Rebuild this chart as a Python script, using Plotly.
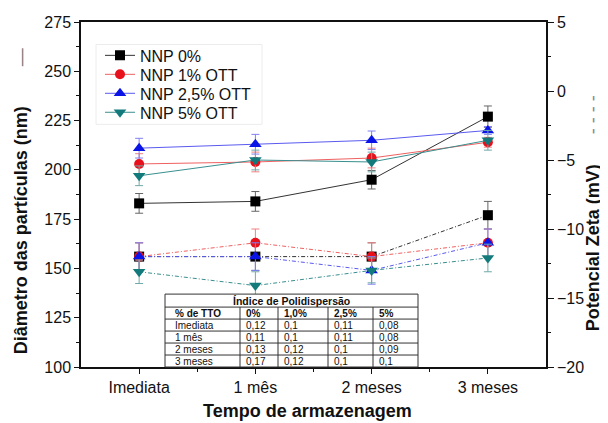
import plotly.graph_objects as go

# ---------------- data ----------------
categories = ["Imediata", "1 mês", "2 meses", "3 meses"]
series_names = ["NNP 0%", "NNP 1% OTT", "NNP 2,5% OTT", "NNP 5% OTT"]

diam_0 = [183, 184, 195, 227]
diam_1 = [203, 204, 206, 214]
diam_25 = [211, 213, 215, 220]
diam_5 = [197, 205, 204, 215]

diam_err_0 = [5, 5, 4.7, 5.4]
diam_err_1 = [5.2, 5, 5, 2.5]
diam_err_25 = [5, 5, 4.7, 2]
diam_err_5 = [5, 5, 5, 5]

zeta_0 = [-12, -12, -12, -9]
zeta_1 = [-12, -11, -12, -11]
zeta_25 = [-12, -12, -13, -11]
zeta_5 = [-13.1, -14.1, -13, -12.1]

zeta_err_0 = [1, 1, 1, 1]
zeta_err_1 = [1, 1, 1, 1]
zeta_err_25 = [1, 1, 1, 1]
zeta_err_5 = [0.85, 1, 0.9, 1]

table_title = "Índice de Polidispersão"
table_header = ["% de TTO", "0%", "1,0%", "2,5%", "5%"]
table_rows = [
    ["Imediata", "0,12", "0,1", "0,11", "0,08"],
    ["1 mês", "0,11", "0,1", "0,11", "0,08"],
    ["2 meses", "0,13", "0,12", "0,1", "0,09"],
    ["3 meses", "0,17", "0,12", "0,1", "0,1"],
]

x_title = "Tempo de armazenagem"
y_title = "Diâmetro das partículas (nm)"
y2_title = "Potencial Zeta (mV)"

# ---------------- styles ----------------
FONT = "Arial, Liberation Sans, sans-serif"
OFF = 8  # page body margin
W, H = 600, 415
ML, MR, MT, MB = 73, 62, 13.5, 56
PW, PH = W - ML - MR, H - MT - MB

marker_colors = ["#000000", "#e8101a", "#0a14e6", "#137a7c"]
line_colors = ["#333333", "#f06060", "#5a5af0", "#3a8f8f"]
err_colors = ["#666666", "#f08080", "#8080f0", "#70aaaa"]
symbols = ["square", "circle", "triangle-up", "triangle-down"]
sizes = [10, 10, 11, 11]
legend_ids = ["legend", "legend2", "legend3", "legend4"]
legend_y_px = [55, 74, 93, 112]

diam = [diam_0, diam_1, diam_25, diam_5]
diam_err = [diam_err_0, diam_err_1, diam_err_25, diam_err_5]
zeta = [zeta_0, zeta_1, zeta_25, zeta_5]
zeta_err = [zeta_err_0, zeta_err_1, zeta_err_25, zeta_err_5]

xs = list(range(len(categories)))


def px_x(px):
    # page pixel -> paper fraction
    return (px - OFF - ML) / PW


def px_y(py):
    return (H - MB - (py - OFF)) / PH


fig = go.Figure()

for i in range(4):
    fig.add_trace(go.Scatter(
        x=xs, y=zeta[i], yaxis="y2", mode="lines+markers", showlegend=False,
        line=dict(color=line_colors[i], width=1, dash="4px,2px,1px,2px"),
        marker=dict(symbol=symbols[i], size=sizes[i], color=marker_colors[i]),
        error_y=dict(type="data", array=zeta_err[i], color=err_colors[i], thickness=1, width=4),
    ))

for i in range(4):
    fig.add_trace(go.Scatter(
        x=xs, y=diam[i], mode="lines+markers", name=series_names[i],
        legend=legend_ids[i],
        line=dict(color=line_colors[i], width=1),
        marker=dict(symbol=symbols[i], size=sizes[i], color=marker_colors[i]),
        error_y=dict(type="data", array=diam_err[i], color=err_colors[i], thickness=1, width=4),
    ))

# ---------------- inset table ----------------
col_edges = [165, 240, 278, 328, 373, 418]
row_edges = [294, 307, 319, 331, 343, 355, 367]
shapes = []
annotations = []

# faint legend frame
shapes.append(dict(type="rect", xref="paper", yref="paper",
                   x0=px_x(96), x1=px_x(262), y0=px_y(124), y1=px_y(44),
                   line=dict(color="#ececec", width=1), fillcolor="rgba(0,0,0,0)", layer="below"))

shapes.append(dict(type="rect", xref="paper", yref="paper",
                   x0=px_x(col_edges[0]), x1=px_x(col_edges[-1]),
                   y0=px_y(row_edges[-1]), y1=px_y(row_edges[0]),
                   fillcolor="white", line=dict(color="#333", width=1), layer="above"))
for r in row_edges[1:-1]:
    shapes.append(dict(type="line", xref="paper", yref="paper",
                       x0=px_x(col_edges[0]), x1=px_x(col_edges[-1]),
                       y0=px_y(r), y1=px_y(r), line=dict(color="#333", width=1), layer="above"))
for c in col_edges[1:-1]:
    shapes.append(dict(type="line", xref="paper", yref="paper",
                       x0=px_x(c), x1=px_x(c),
                       y0=px_y(row_edges[-1]), y1=px_y(row_edges[1]),
                       line=dict(color="#333", width=1), layer="above"))

annotations.append(dict(xref="paper", yref="paper", x=px_x((col_edges[0] + col_edges[-1]) / 2),
                        y=px_y((row_edges[0] + row_edges[1]) / 2), text="<b>" + table_title + "</b>",
                        showarrow=False, font=dict(family=FONT, size=10.5, color="#111"),
                        xanchor="center", yanchor="middle"))
all_rows = [table_header] + table_rows
for ri, row in enumerate(all_rows):
    yc = (row_edges[ri + 1] + row_edges[ri + 2]) / 2
    for ci, txt in enumerate(row):
        pad = 8 if ci == 0 else 4
        t = "<b>" + txt + "</b>" if ri == 0 else txt
        annotations.append(dict(xref="paper", yref="paper", x=px_x(col_edges[ci] + pad),
                                y=px_y(yc), text=t, showarrow=False,
                                font=dict(family=FONT, size=10, color="#111"),
                                xanchor="left", yanchor="middle"))

# axis titles (rotated y titles placed as annotations)
annotations.append(dict(xref="paper", yref="paper", x=px_x(21), y=px_y(201),
                        text="<b>" + y_title + "</b>        <span style='color:#777'>—</span>",
                        textangle=-90, showarrow=False, xanchor="center", yanchor="middle",
                        font=dict(family=FONT, size=18, color="#111")))
annotations.append(dict(xref="paper", yref="paper", x=px_x(593), y=px_y(213),
                        text="<b>" + y2_title + "</b>      <span style='color:#888'>- - - -</span>",
                        textangle=-90, showarrow=False, xanchor="center", yanchor="middle",
                        font=dict(family=FONT, size=18, color="#111")))
annotations.append(dict(xref="paper", yref="paper", x=px_x(307), y=px_y(411),
                        text="<b>" + x_title + "</b>", showarrow=False,
                        xanchor="center", yanchor="middle",
                        font=dict(family=FONT, size=18, color="#111")))

axis_common = dict(showline=True, linecolor="#111", linewidth=1.5, showgrid=False,
                   zeroline=False, ticks="outside", tickcolor="#111", tickwidth=1.2,
                   tickfont=dict(family=FONT, size=16, color="#111"), automargin=False)

legends = {}
for i, lid in enumerate(legend_ids):
    legends[lid] = dict(x=px_x(100), y=px_y(legend_y_px[i]), xanchor="left", yanchor="middle",
                        bgcolor="rgba(255,255,255,0)", borderwidth=0,
                        font=dict(family=FONT, size=16, color="#111"))

fig.update_layout(
    width=W, height=H,
    margin=dict(l=ML, r=MR, t=MT, b=MB),
    paper_bgcolor="white", plot_bgcolor="white",
    font=dict(family=FONT, color="#111"),
    xaxis=dict(**axis_common, range=[-0.5, 3.5], tickvals=xs, ticktext=categories,
               ticklen=5, mirror=True,
               minor=dict(tickvals=[0.5, 1.5, 2.5], ticklen=3, ticks="outside", tickcolor="#111")),
    yaxis=dict(**axis_common, range=[100, 275], dtick=25, tick0=100, ticklen=5,
               minor=dict(dtick=12.5, ticklen=3, ticks="outside", tickcolor="#111")),
    yaxis2=dict(**axis_common, overlaying="y", side="right", range=[-20, 5], dtick=5, tick0=-20,
                ticklen=6,
                minor=dict(dtick=2.5, ticklen=3, ticks="outside", tickcolor="#111")),
    shapes=shapes,
    annotations=annotations,
    showlegend=True,
    **legends,
)

fig.write_html("out.html")
